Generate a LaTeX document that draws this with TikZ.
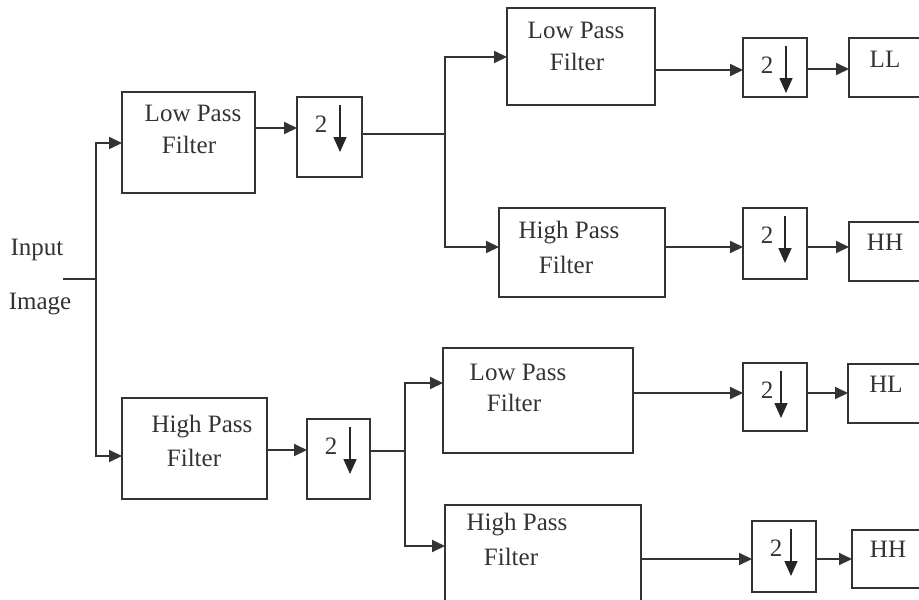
\documentclass[tikz,border=0pt]{standalone}
\usepackage{fontspec}
\setmainfont{Liberation Serif}
\usetikzlibrary{arrows.meta}
\newcommand\mkbox[5]{\node[blk, minimum width={#4-#2}, minimum height={#5-#3}] (#1) at ({(#2+#4)/2},{(#3+#5)/2}) {};}
\newcommand\mkdown[6]{%
  \mkbox{#1}{#2}{#3}{#4}{#5}
  \node[lbl] (#1-two) at ([shift={(24,27)}]#1.north west) {2};
  \draw[inarr] ([shift={(#6,8)}]#1.north west) -- ([shift={(#6,55)}]#1.north west);}
\begin{document}
\begin{tikzpicture}[x=1pt,y=-1pt,
  blk/.style={draw=black!80, line width=1.9pt, rectangle, inner sep=0pt, outer sep=0pt},
  lbl/.style={inner sep=0pt, text=black!80, font=\fontsize{25}{29}\selectfont},
  wire/.style={draw=black!80, line width=1.9pt},
  arr/.style={wire, -{Triangle[length=13pt,width=12pt]}},
  inarr/.style={draw=black!85, line width=1.6pt, -{Triangle[length=15pt,width=13pt]}}]
\useasboundingbox (0,0) rectangle (919,600);
\clip (0,0) rectangle (919,600);
% input
\node[lbl] (tin1) at (37,250) {Input};
\node[lbl] (tin2) at (40,304) {Image};
\coordinate (in) at (63,279);
\coordinate (j0) at (96,279);
% filters
\mkbox{lpf1}{122}{92}{255}{193}
\node[lbl] (lpf1-a) at (193,113) {Low Pass};
\node[lbl] (lpf1-b) at (189,145) {Filter};
\mkbox{hpf1}{122}{398}{267}{499}
\node[lbl] (hpf1-a) at (202,427) {High Pass};
\node[lbl] (hpf1-b) at (194,458) {Filter};
\mkbox{lpf2}{507}{8}{655}{105}
\node[lbl] (lpf2-a) at (576,30) {Low Pass};
\node[lbl] (lpf2-b) at (577,62) {Filter};
\mkbox{hpf2}{499}{208}{665}{297}
\node[lbl] (hpf2-a) at (569,233) {High Pass};
\node[lbl] (hpf2-b) at (566,265) {Filter};
\mkbox{lpf3}{443}{348}{633}{453}
\node[lbl] (lpf3-a) at (518,372) {Low Pass};
\node[lbl] (lpf3-b) at (514,403) {Filter};
\mkbox{hpf3}{445}{505}{641}{610}
\node[lbl] (hpf3-a) at (517,525) {High Pass};
\node[lbl] (hpf3-b) at (511,557) {Filter};
% downsamplers
\mkdown{d1}{297}{97}{362}{177}{43}
\mkdown{d2}{743}{38}{807}{97}{43}
\mkdown{d3}{743}{208}{807}{279}{42}
\mkdown{d4}{307}{419}{370}{499}{43}
\mkdown{d5}{743}{363}{807}{431}{38}
\mkdown{d6}{752}{521}{816}{592}{39}
% outputs
\mkbox{ll}{849}{38}{930}{97}
\node[lbl] (ll-t) at (885,59) {LL};
\mkbox{hh1}{849}{222}{930}{281}
\node[lbl] (hh1-t) at (885,242) {HH};
\mkbox{hl}{848}{364}{930}{423}
\node[lbl] (hl-t) at (886,384) {HL};
\mkbox{hh2}{852}{530}{930}{588}
\node[lbl] (hh2-t) at (888,549) {HH};
% junctions
\coordinate (j1) at (445,134);
\coordinate (j2) at (405,451);
% connectors
\draw[wire] (in) -- (j0);
\draw[arr] (j0) |- (lpf1.west |- 0,143);
\draw[arr] (j0) |- (hpf1.west |- 0,456);
\draw[arr] (lpf1.east |- 0,128) -- (d1.west |- 0,128);
\draw[wire] (d1.east |- j1) -- (j1);
\draw[arr] (j1) |- (lpf2.west |- 0,57);
\draw[arr] (j1) |- (hpf2.west |- 0,247);
\draw[arr] (lpf2.east |- 0,70) -- (d2.west |- 0,70);
\draw[arr] (d2.east |- 0,69) -- (ll.west |- 0,69);
\draw[arr] (hpf2.east |- 0,247) -- (d3.west |- 0,247);
\draw[arr] (d3.east |- 0,247) -- (hh1.west |- 0,247);
\draw[arr] (hpf1.east |- 0,450) -- (d4.west |- 0,450);
\draw[wire] (d4.east |- j2) -- (j2);
\draw[arr] (j2) |- (lpf3.west |- 0,383);
\draw[arr] (j2) |- (hpf3.west |- 0,546);
\draw[arr] (lpf3.east |- 0,393) -- (d5.west |- 0,393);
\draw[arr] (d5.east |- 0,393) -- (hl.west |- 0,393);
\draw[arr] (hpf3.east |- 0,559) -- (d6.west |- 0,559);
\draw[arr] (d6.east |- 0,559) -- (hh2.west |- 0,559);
\end{tikzpicture}
\end{document}
